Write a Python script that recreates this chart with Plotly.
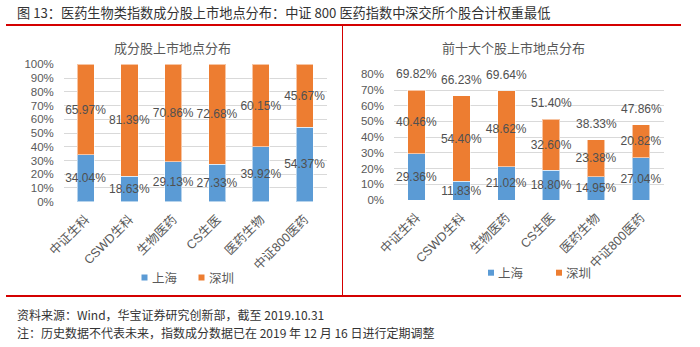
import plotly.graph_objects as go

W, H = 700, 347

# ---- data ----
categories = ["中证生科", "CSWD生科", "生物医药", "CS生医", "医药生物", "中证800医药"]
# constituent listing venue, share of count (%)
all_shanghai = [34.04, 18.63, 29.13, 27.33, 39.92, 54.37]
all_shenzhen = [65.97, 81.39, 70.86, 72.68, 60.15, 45.67]
# top-10 constituents, share of weight (%)
top10_shanghai = [29.36, 11.83, 21.02, 18.80, 14.95, 27.04]
top10_shenzhen = [40.46, 54.40, 48.62, 32.60, 23.38, 20.82]
left_ticks = [0, 10, 20, 30, 40, 50, 60, 70, 80, 90, 100]
right_ticks = [0, 10, 20, 30, 40, 50, 60, 70, 80]

BLUE = "#5B9BD5"
ORANGE = "#ED7D31"
GRAY = "#595959"
GRID = "#D9D9D9"
RED = "#D40000"
NUM_FONT = "Liberation Sans, Arial, Noto Sans CJK SC"
CJK_FONT = "Noto Sans CJK SC, Liberation Sans"


def px(x):
    return x / W


def py(y):
    return 1 - y / H


def pct(v):
    return f"{v:.2f}%"


fig = go.Figure()

bar_common = dict(
    width=0.39,
    textposition="inside",
    insidetextanchor="middle",
    constraintext="none",
    textangle=0,
    insidetextfont=dict(family=NUM_FONT, size=12, color="#505050"),
    marker_line=dict(color="rgba(255,255,255,0.55)", width=1),
    showlegend=False,
    hoverinfo="skip",
)

fig.add_trace(go.Bar(x=categories, y=all_shanghai, text=[pct(v) for v in all_shanghai],
                     marker_color=BLUE, xaxis="x", yaxis="y", name="上海", **bar_common))
fig.add_trace(go.Bar(x=categories, y=all_shenzhen, text=[pct(v) for v in all_shenzhen],
                     marker_color=ORANGE, xaxis="x", yaxis="y", name="深圳", **bar_common))
fig.add_trace(go.Bar(x=categories, y=top10_shanghai, text=[pct(v) for v in top10_shanghai],
                     marker_color=BLUE, xaxis="x2", yaxis="y2", name="上海", **bar_common))
fig.add_trace(go.Bar(x=categories, y=top10_shenzhen, text=[pct(v) for v in top10_shenzhen],
                     marker_color=ORANGE, xaxis="x2", yaxis="y2", name="深圳", **bar_common))

annotations = []
# total labels above the top-10 bars
for c, a, b in zip(categories, top10_shanghai, top10_shenzhen):
    total = round(a + b, 2)
    annotations.append(dict(x=c, y=total, xref="x2", yref="y2", text=pct(total),
                            showarrow=False, yshift=16, yanchor="middle",
                            font=dict(family=NUM_FONT, size=12, color="#505050")))

xaxis_common = dict(
    type="category", tickangle=-45, showgrid=False, zeroline=False, showline=False,
    ticks="", tickfont=dict(family=NUM_FONT, size=12.5, color=GRAY), fixedrange=True,
    automargin=False, ticklabelstandoff=7,
)
yaxis_common = dict(
    showgrid=True, gridcolor=GRID, gridwidth=1, zeroline=False, showline=False,
    ticks="", tickfont=dict(family=NUM_FONT, size=11.5, color=GRAY),
    ticklabelstandoff=9, fixedrange=True, automargin=False, tickmode="array",
)

layout = dict(
    width=W, height=H,
    margin=dict(l=0, r=0, t=0, b=0, autoexpand=False),
    paper_bgcolor="white", plot_bgcolor="white",
    barmode="stack",
    showlegend=False,
    xaxis=dict(domain=[px(63.8), px(326.6)], anchor="y", **xaxis_common),
    yaxis=dict(domain=[py(201.7), py(64.3)], anchor="x", range=[0, 100],
               tickvals=left_ticks, ticktext=[f"{v}%" for v in left_ticks], **yaxis_common),
    xaxis2=dict(domain=[px(394), px(663.5)], anchor="y2", **xaxis_common),
    yaxis2=dict(domain=[py(200), py(74.3)], anchor="x2", range=[0, 80],
                tickvals=right_ticks, ticktext=[f"{v}%" for v in right_ticks], **yaxis_common),
)

# headline, panel titles and footer notes
annotations += [
    dict(x=px(15), y=py(12), xref="paper", yref="paper", xanchor="left", yanchor="middle",
         text="图 13：医药生物类指数成分股上市地点分布：中证 800 医药指数中深交所个股合计权重最低",
         showarrow=False, font=dict(family=CJK_FONT, size=13.2, color="#333333")),
    dict(x=px(172), y=py(47.5), xref="paper", yref="paper", xanchor="center", yanchor="middle",
         text="成分股上市地点分布", showarrow=False,
         font=dict(family=CJK_FONT, size=13, color=GRAY)),
    dict(x=px(513), y=py(48), xref="paper", yref="paper", xanchor="center", yanchor="middle",
         text="前十大个股上市地点分布", showarrow=False,
         font=dict(family=CJK_FONT, size=13, color=GRAY)),
    dict(x=px(15), y=py(314), xref="paper", yref="paper", xanchor="left", yanchor="middle",
         text="资料来源：Wind，华宝证券研究创新部，截至 2019.10.31", showarrow=False,
         font=dict(family=CJK_FONT, size=12, color="#333333")),
    dict(x=px(15), y=py(332), xref="paper", yref="paper", xanchor="left", yanchor="middle",
         text="注：历史数据不代表未来，指数成分数据已在 2019 年 12 月 16 日进行定期调整", showarrow=False,
         font=dict(family=CJK_FONT, size=12, color="#333333")),
]

shapes = [
    dict(type="line", xref="paper", yref="paper", x0=px(6), x1=px(681), y0=py(25), y1=py(25),
         line=dict(color=RED, width=2)),
    dict(type="line", xref="paper", yref="paper", x0=px(681), x1=px(6), y0=py(296), y1=py(296),
         line=dict(color=RED, width=2)),
    dict(type="line", xref="paper", yref="paper", x0=px(342.5), x1=px(342.5), y0=py(25), y1=py(296),
         line=dict(color=RED, width=1)),
]

# legend rows: colour swatch + series name
legend_rows = [
    (141.5, 277.5, 198.5),
    (488.0, 272.7, 556.0),
]
for x_blue, y_row, x_orange in legend_rows:
    for x0, color, label in [(x_blue, BLUE, "上海"), (x_orange, ORANGE, "深圳")]:
        shapes.append(dict(type="rect", xref="paper", yref="paper",
                           x0=px(x0), x1=px(x0 + 6), y0=py(y_row + 3), y1=py(y_row - 3),
                           fillcolor=color, line=dict(width=0)))
        annotations.append(dict(x=px(x0 + 8), y=py(y_row), xref="paper", yref="paper",
                                xanchor="left", yanchor="middle", text=label, showarrow=False,
                                font=dict(family=CJK_FONT, size=12.5, color=GRAY)))

layout["annotations"] = annotations
layout["shapes"] = shapes
fig.update_layout(**layout)

fig.write_html("out.html")
